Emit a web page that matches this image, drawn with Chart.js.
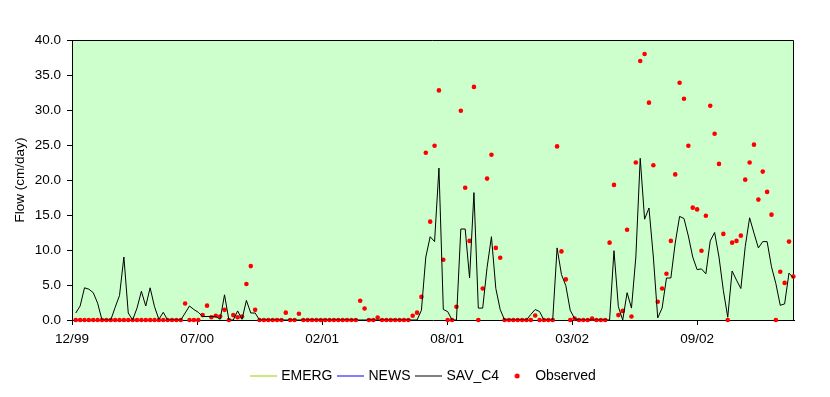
<!DOCTYPE html>
<html>
<head>
<meta charset="utf-8">
<script src="https://cdn.jsdelivr.net/npm/chart.js@4.4.1/dist/chart.umd.min.js"></script>
<style>
  html, body { margin: 0; padding: 0; background: #fff; }
</style>
</head>
<body>
<canvas id="flowChart" width="830" height="397"></canvas>
<script>
// x axis: days from the first tick, one sample per week
const tickLabels = ['12/99', '07/00', '02/01', '08/01', '03/02', '09/02'];
const tickDays = [0, 200, 400, 600, 800, 1000];
const firstDay = 6;
const stepDays = 7;

const emerg = [];
const news = [];
const savC4 = [
  1.0, 2.0, 4.6, 4.4, 3.9, 2.4, 0, 0, 0, 1.8,
  3.5, 9.0, 1.0, 0, 1.7, 4.1, 2.0, 4.6, 1.9, 0.1,
  1.1, 0, 0, 0, 0, 1.0, 2.0, 1.5, 1.1, 0.5,
  0.5, 0.5, 0.5, 0.1, 3.6, 0, 0, 1.3, 0.1, 2.8,
  1.0, 1.0, 0, 0, 0, 0, 0, 0, 0, 0,
  0, 0, 0, 0, 0, 0, 0, 0, 0, 0,
  0, 0, 0, 0, 0, 0, 0, 0, 0, 0,
  0, 0, 0, 0, 0, 0, 0, 0, 0, 1.4,
  9.0, 11.9, 11.2, 21.7, 1.5, 1.2, 0, 0, 13.0, 13.0,
  6.0, 18.2, 1.7, 1.7, 7.5, 11.9, 4.5, 1.5, 0, 0,
  0, 0, 0, 0, 0.8, 1.5, 1.2, 0, 0, 0,
  10.3, 6.5, 4.9, 1.4, 0.2, 0, 0, 0, 0, 0,
  0, 0, 0, 9.9, 1.9, 0, 3.9, 1.7, 9.0, 23.1,
  14.4, 16.0, 9.0, 0.3, 1.7, 6.0, 6.0, 11.0, 14.8, 14.5,
  12.0, 9.0, 7.2, 7.3, 6.6, 11.3, 12.5, 9.0, 4.2, 0.4,
  7.0, 5.7, 4.5, 10.5, 14.6, 12.4, 10.3, 11.2, 11.2, 7.6,
  5.2, 2.1, 2.3, 6.7, 6.0
];
const observed = [
  0, 0, 0, 0, 0, 0, 0, 0, 0, 0,
  0, 0, 0, 0, 0, 0, 0, 0, 0, 0,
  0, 0, 0, 0, 0, 2.35, 0, 0, 0, 0.7,
  2.05, 0.4, 0.6, 0.5, 1.45, 0, 0.7, 0.4, 0.5, 5.15,
  7.7, 1.45, 0, 0, 0, 0, 0, 0, 1.05, 0,
  0, 0.9, 0, 0, 0, 0, 0, 0, 0, 0,
  0, 0, 0, 0, 0, 2.75, 1.65, 0, 0, 0.35,
  0, 0, 0, 0, 0, 0, 0, 0.6, 1.05, 3.3,
  23.9, 14.05, 24.9, 32.8, 8.6, 0, 0, 1.9, 29.9, 18.9,
  11.3, 33.3, 0, 4.5, 20.2, 23.6, 10.3, 8.9, 0, 0,
  0, 0, 0, 0, 0, 0.65, 0, 0, 0, 0,
  24.8, 9.8, 5.8, 0, 0.2, 0, 0, 0, 0.2, 0,
  0, 0, 11.05, 19.3, 0.7, 1.3, 12.9, 0.5, 22.5, 37.0,
  38.0, 31.05, 22.1, 2.6, 4.5, 6.6, 11.3, 20.8, 33.9, 31.6,
  24.9, 16.05, 15.8, 9.9, 14.9, 30.6, 26.6, 22.3, 12.3, 0,
  11.05, 11.3, 12.05, 20.05, 22.5, 25.05, 17.2, 21.2, 18.3, 15.05,
  0, 6.9, 5.3, 11.2, 6.2
];

const toPoints = arr => arr.map((v, i) => ({ x: firstDay + i * stepDays, y: v }));

const font = { family: "Arial, 'Liberation Sans', sans-serif", size: 13.5 };
const legendFont = { family: "Arial, 'Liberation Sans', sans-serif", size: 14 };

// little canvases used as legend symbols
function lineIcon(color){
  const c = document.createElement('canvas');
  c.width = 27; c.height = 3;
  const g = c.getContext('2d');
  g.fillStyle = color;
  g.fillRect(0, 1, 27, 1);
  return c;
}
function dotIcon(color){
  const c = document.createElement('canvas');
  c.width = 6; c.height = 6;
  const g = c.getContext('2d');
  g.fillStyle = color;
  g.beginPath(); g.arc(3, 3, 2.5, 0, Math.PI * 2); g.fill();
  return c;
}
const legendIcons = [lineIcon('#99CC00'), lineIcon('#0000FF'), lineIcon('#000000'), dotIcon('#FF0000')];

// green plot area + black frame
const plotFrame = {
  id: 'plotFrame',
  beforeDraw(chart){
    const {ctx, chartArea: a} = chart;
    ctx.save();
    ctx.fillStyle = '#CCFFCC';
    ctx.fillRect(a.left, a.top, a.right - a.left, a.bottom - a.top);
    ctx.restore();
  },
  beforeDatasetsDraw(chart){
    const {ctx, chartArea: a} = chart;
    ctx.save();
    ctx.strokeStyle = '#000';
    ctx.lineWidth = 1;
    ctx.beginPath();
    ctx.moveTo(a.left, a.top + 0.5);
    ctx.lineTo(a.right - 0.5, a.top + 0.5);
    ctx.lineTo(a.right - 0.5, a.bottom);
    ctx.stroke();
    ctx.restore();
  }
};

new Chart(document.getElementById('flowChart'), {
  type: 'line',
  data: {
    datasets: [
      { label: 'EMERG', data: toPoints(emerg), borderColor: '#99CC00', borderWidth: 1, pointRadius: 0 },
      { label: 'NEWS', data: toPoints(news), borderColor: '#0000FF', borderWidth: 1, pointRadius: 0 },
      { label: 'SAV_C4', data: toPoints(savC4), borderColor: '#000000', borderWidth: 1, pointRadius: 0, tension: 0 },
      { label: 'Observed', data: toPoints(observed), showLine: false, pointRadius: 2.3, pointStyle: 'circle',
        backgroundColor: '#FF0000', borderColor: '#FF0000', borderWidth: 0, clip: false }
    ]
  },
  options: {
    responsive: false,
    animation: false,
    layout: { padding: { left: 18, right: 0, top: 40, bottom: 4 } },
    scales: {
      x: {
        type: 'linear', min: 0, max: 1155,
        afterBuildTicks: s => { s.ticks = tickDays.map(v => ({ value: v })); },
        afterFit: s => { s.height = 42; },
        ticks: { callback: v => tickLabels[tickDays.indexOf(v)], autoSkip: false, maxRotation: 0,
                 padding: 6, color: '#000', font },
        grid: { drawOnChartArea: false, drawTicks: true, tickLength: 5, color: '#000' },
        border: { color: '#000', width: 1 }
      },
      y: {
        min: 0, max: 40,
        afterFit: s => { s.width = 54; },
        ticks: { stepSize: 5, callback: v => v.toFixed(1), padding: 6, color: '#000', font },
        grid: { drawOnChartArea: false, drawTicks: true, tickLength: 5, color: '#000' },
        border: { color: '#000', width: 1 },
        title: { display: true, text: 'Flow (cm/day)', color: '#000', font, padding: { top: -6, bottom: 0 } }
      },
      y2: {
        position: 'right', display: true,
        afterFit: s => { s.width = 36; },
        ticks: { display: false },
        grid: { display: false },
        border: { display: false }
      }
    },
    plugins: {
      tooltip: { enabled: false },
      legend: {
        position: 'bottom',
        labels: {
          usePointStyle: true, pointStyleWidth: 22, padding: 7, color: '#000', font: legendFont,
          generateLabels: chart => chart.data.datasets.map((ds, i) => ({
            text: ds.label, pointStyle: legendIcons[i], datasetIndex: i, hidden: false,
            fontColor: '#000', lineWidth: 0, strokeStyle: 'transparent', fillStyle: 'transparent'
          }))
        }
      }
    }
  },
  plugins: [plotFrame]
});
</script>
</body>
</html>
